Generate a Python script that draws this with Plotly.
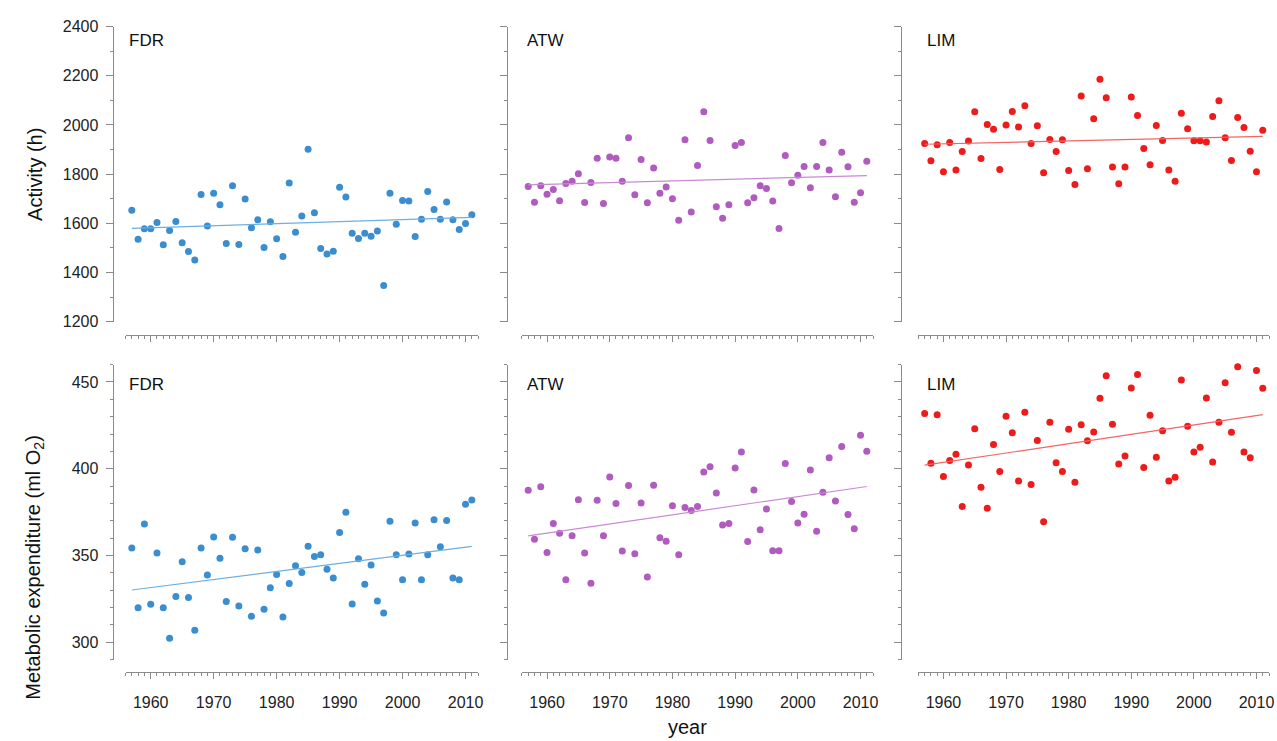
import numpy as np
import plotly.graph_objects as go

years = list(range(1957, 2012))

activity_fdr = [1653, 1535, 1578, 1578, 1603, 1513, 1571, 1607, 1521, 1485,
                1451, 1717, 1589, 1722, 1675, 1518, 1753, 1514, 1699, 1582,
                1614, 1501, 1606, 1537, 1465, 1764, 1563, 1630, 1901, 1643,
                1497, 1475, 1486, 1746, 1707, 1559, 1538, 1559, 1547, 1569,
                1347, 1722, 1596, 1693, 1691, 1546, 1616, 1729, 1656, 1616,
                1687, 1614, 1575, 1599, 1635]
activity_atw = [1750, 1685, 1753, 1718, 1737, 1692, 1762, 1771, 1801, 1684,
                1766, 1864, 1680, 1870, 1864, 1771, 1948, 1716, 1859, 1683,
                1825, 1722, 1748, 1700, 1612, 1940, 1646, 1835, 2054, 1937,
                1667, 1620, 1675, 1916, 1928, 1683, 1704, 1753, 1741, 1691,
                1579, 1876, 1765, 1795, 1831, 1744, 1831, 1929, 1817, 1708,
                1889, 1830, 1685, 1724, 1852]
activity_lim = [1924, 1854, 1919, 1810, 1929, 1817, 1892, 1935, 2054, 1863,
                2002, 1982, 1819, 2000, 2055, 1992, 2078, 1924, 1997, 1805,
                1941, 1892, 1940, 1815, 1758, 2118, 1822, 2025, 2186, 2110,
                1829, 1761, 1829, 2114, 2038, 1904, 1838, 1998, 1937, 1817,
                1771, 2047, 1984, 1936, 1936, 1931, 2034, 2098, 1948, 1855,
                2030, 1990, 1893, 1810, 1978]

metab_fdr = [354.3, 320.0, 368.2, 321.9, 351.5, 320.0, 302.4, 326.4, 346.4, 325.8,
             307.0, 354.3, 338.8, 360.7, 348.5, 323.6, 360.5, 321.0, 353.9, 315.0,
             353.2, 319.1, 331.5, 339.1, 314.6, 333.9, 344.2, 340.3, 355.4, 349.4,
             350.4, 342.1, 337.1, 363.3, 374.9, 322.1, 348.1, 333.5, 344.6, 323.8,
             316.9, 369.7, 350.4, 336.0, 350.9, 368.7, 336.0, 350.4, 370.6, 355.1,
             370.2, 337.1, 336.0, 379.6, 382.0]
metab_atw = [387.6, 359.4, 389.7, 351.7, 368.5, 362.9, 336.0, 361.4, 382.2, 351.5,
             334.1, 381.8, 361.4, 395.3, 380.0, 352.6, 390.3, 351.1, 380.3, 337.6,
             390.5, 360.3, 358.2, 378.7, 350.4, 377.7, 376.0, 378.3, 398.1, 401.1,
             386.0, 367.6, 368.5, 400.4, 409.7, 358.1, 387.8, 364.8, 376.8, 352.8,
             352.8, 403.0, 381.1, 368.7, 373.8, 399.3, 364.0, 386.5, 406.4, 381.5,
             412.9, 373.6, 365.5, 419.3, 410.1]
metab_lim = [431.8, 403.2, 431.1, 395.5, 404.7, 408.4, 378.3, 402.2, 423.0, 389.3,
             377.2, 414.0, 398.5, 430.3, 420.8, 392.9, 432.6, 391.0, 416.3, 369.5,
             426.8, 403.4, 398.5, 422.8, 392.3, 425.3, 416.1, 421.2, 440.6, 453.6,
             425.7, 402.8, 407.3, 446.6, 454.3, 400.7, 430.9, 406.7, 421.9, 392.9,
             395.1, 451.1, 424.5, 409.6, 412.4, 440.8, 403.9, 426.8, 449.6, 421.0,
             458.8, 409.6, 406.4, 456.6, 446.4]

sites = ["FDR", "ATW", "LIM"]
marker_colors = ["#3a8ecf", "#b05bbf", "#ee1b1b"]
line_colors = ["#6cafe2", "#c98ad3", "#f46464"]

activity_ticks = [1200, 1400, 1600, 1800, 2000, 2200, 2400]
metab_ticks = [300, 350, 400, 450]
year_ticks = [1960, 1970, 1980, 1990, 2000, 2010]

W, H = 1277, 741
FONT = "Liberation Sans, Arial, Helvetica, sans-serif"
AXC = "#8a8a8a"

# pixel geometry
x_dom_px = [(126, 480), (524, 876.5), (922, 1274)]
y_axis_px = [113, 509, 905]
row_dom_px = [(19, 321), (365, 667)]  # top, bottom (pixel from top)
x_axis_line_px = [335, 680]

def px_x(p):
    return p / W

def px_y(p):
    return 1 - p / H

fig = go.Figure()
layout = {}

data_rows = [[activity_fdr, activity_atw, activity_lim],
             [metab_fdr, metab_atw, metab_lim]]
yranges = [[1200, 2400], [290, 460]]
ymajor = [activity_ticks, metab_ticks]
yminor = [100, 10]

k = 0
for r in range(2):
    for c in range(3):
        k += 1
        xa = "x" if k == 1 else f"x{k}"
        ya = "y" if k == 1 else f"y{k}"
        xkey = "xaxis" if k == 1 else f"xaxis{k}"
        ykey = "yaxis" if k == 1 else f"yaxis{k}"
        vals = data_rows[r][c]
        fig.add_trace(go.Scatter(x=years, y=vals, mode="markers",
                                 marker=dict(size=7, color=marker_colors[c]),
                                 xaxis=xa, yaxis=ya, showlegend=False,
                                 cliponaxis=False))
        slope, icpt = np.polyfit(years, vals, 1)
        fx = [years[0], years[-1]]
        fy = [icpt + slope * v for v in fx]
        fig.add_trace(go.Scatter(x=fx, y=fy, mode="lines",
                                 line=dict(color=line_colors[c], width=1.2),
                                 xaxis=xa, yaxis=ya, showlegend=False))
        layout[xkey] = dict(
            domain=[px_x(x_dom_px[c][0]), px_x(x_dom_px[c][1])],
            range=[1956, 2012], anchor="free",
            position=px_y(x_axis_line_px[r]),
            showline=True, linecolor=AXC, linewidth=1,
            ticks="outside", tickvals=year_ticks, ticklen=6, tickcolor=AXC,
            tickwidth=1,
            minor=dict(dtick=1, tick0=1956, ticklen=3, ticks="outside",
                       tickcolor=AXC, tickwidth=1, showgrid=False),
            showgrid=False, zeroline=False,
            showticklabels=(r == 1),
            ticklabelstandoff=9,
            tickfont=dict(family=FONT, size=16, color="#222222"),
        )
        layout[ykey] = dict(
            domain=[px_y(row_dom_px[r][1]), px_y(row_dom_px[r][0])],
            range=yranges[r], anchor="free",
            position=px_x(y_axis_px[c]),
            showline=True, linecolor=AXC, linewidth=1,
            ticks="outside", tickvals=ymajor[r], ticklen=7, tickcolor=AXC,
            tickwidth=1,
            minor=dict(dtick=yminor[r], ticklen=3, ticks="outside",
                       tickcolor=AXC, tickwidth=1, showgrid=False),
            showgrid=False, zeroline=False,
            showticklabels=(c == 0),
            ticklabelstandoff=4,
            tickfont=dict(family=FONT, size=16, color="#222222"),
        )

annotations = []
label_x = [127, 527, 929]
label_y = [33, 385]
for r in range(2):
    for c in range(3):
        annotations.append(dict(text=sites[c], x=px_x(label_x[c]), y=px_y(label_y[r]),
                                xref="paper", yref="paper", xanchor="left",
                                yanchor="middle", showarrow=False,
                                font=dict(family=FONT, size=17, color="#111111")))
annotations.append(dict(text="Activity (h)", x=px_x(35), y=px_y(170),
                        xref="paper", yref="paper", textangle=-90,
                        xanchor="center", yanchor="middle", showarrow=False,
                        font=dict(family=FONT, size=20, color="#111111")))
annotations.append(dict(text="Metabolic expenditure (ml O<sub>2</sub>)",
                        x=px_x(35), y=px_y(572),
                        xref="paper", yref="paper", textangle=-90,
                        xanchor="center", yanchor="middle", showarrow=False,
                        font=dict(family=FONT, size=20, color="#111111")))
annotations.append(dict(text="year", x=px_x(690), y=px_y(741),
                        xref="paper", yref="paper",
                        xanchor="center", yanchor="bottom", showarrow=False,
                        yshift=-8,
                        font=dict(family=FONT, size=20, color="#111111")))

fig.update_layout(width=W, height=H, margin=dict(l=0, r=0, t=0, b=0),
                  paper_bgcolor="white", plot_bgcolor="white",
                  annotations=annotations, **layout)

fig.write_html("out.html")
